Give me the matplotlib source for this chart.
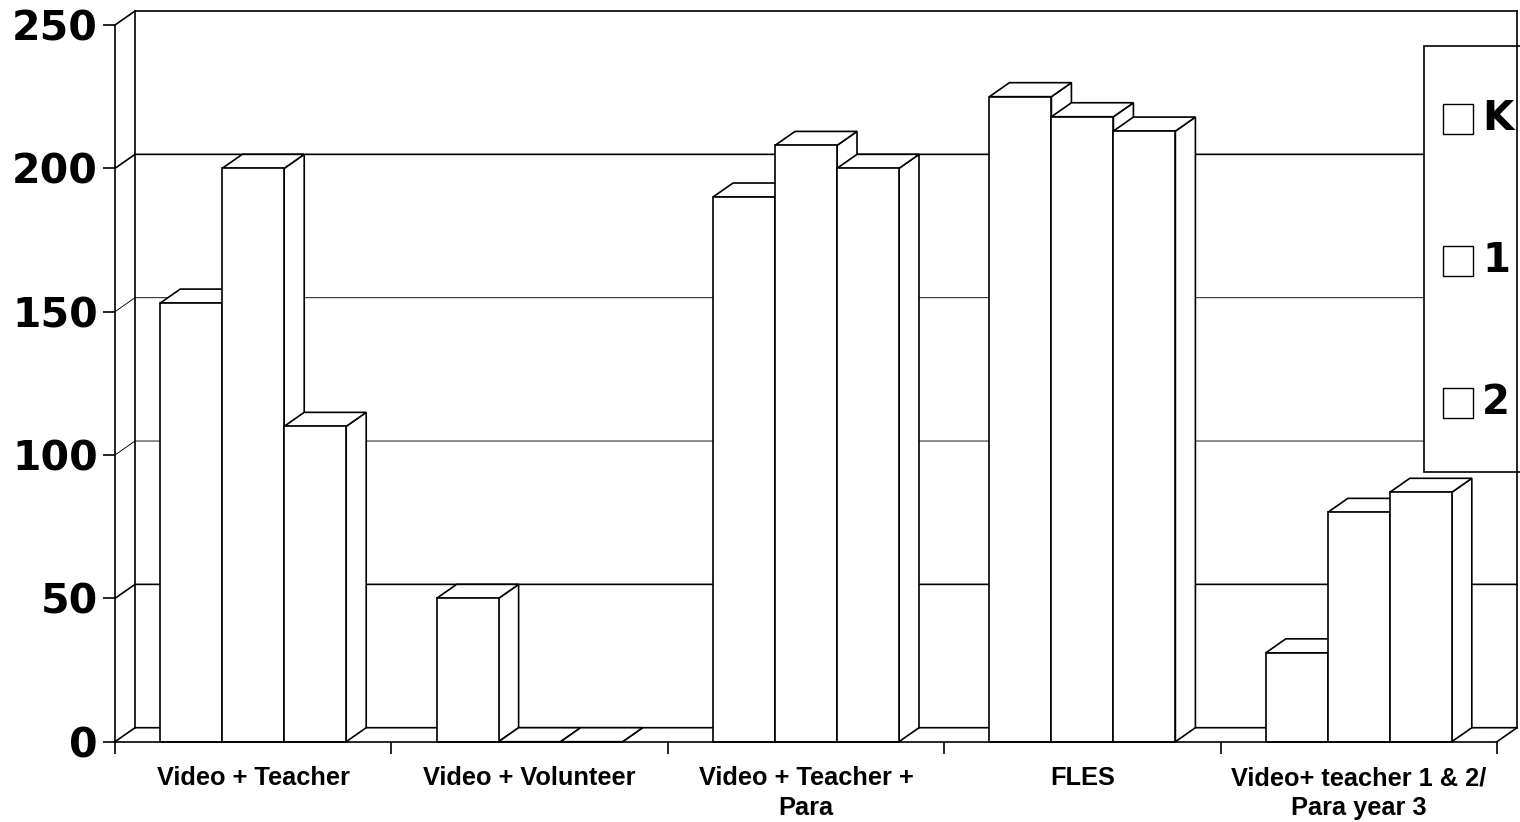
import matplotlib
matplotlib.use("Agg")
import matplotlib.pyplot as plt
from matplotlib.patches import Polygon, Rectangle

# ---- data -------------------------------------------------------------
categories = [
    "Video + Teacher",
    "Video + Volunteer",
    "Video + Teacher +\nPara",
    "FLES",
    "Video+ teacher 1 & 2/\nPara year 3",
]
series_labels = ["K", "1", "2"]
k_values = [153, 50, 190, 225, 31]
grade1_values = [200, 0, 208, 218, 80]
grade2_values = [110, 0, 200, 213, 87]
y_ticks = [0, 50, 100, 150, 200, 250]

series_values = [k_values, grade1_values, grade2_values]

# ---- style ------------------------------------------------------------
plt.rcParams["font.family"] = ["Liberation Sans", "DejaVu Sans"]
plt.rcParams["font.weight"] = "bold"
BIG_FONT = ["DejaVu Sans"]

W, H, DPI = 1520, 822, 100
Y_MAX = 250
DX, DY = 0.0724, 4.88          # depth offset of the 3-D box (data units)
BAR_W = 0.2243                 # width of one column (category units)
GAP = (1 - 3 * BAR_W) / 2      # free space at each side of a cluster
EDGE_LW = 1.2
THIN_LW = 0.65

fig = plt.figure(figsize=(W / DPI, H / DPI), dpi=DPI)
fig.patch.set_facecolor("white")
ax = fig.add_axes([115 / W, (H - 741.7) / H, 1382 / W, 716.7 / H])
ax.set_xlim(0, len(categories))
ax.set_ylim(0, Y_MAX)
ax.set_facecolor("none")

n_cat = len(categories)

# back wall, left side wall and gridlines
for v in y_ticks:
    lw = THIN_LW if v in (100, 150) else EDGE_LW
    ax.plot([0, DX, n_cat + DX], [v, v + DY, v + DY], color="black",
            lw=lw, clip_on=False, zorder=1, solid_joinstyle="miter")
ax.plot([DX, DX], [DY, Y_MAX + DY], color="black", lw=EDGE_LW,
        clip_on=False, zorder=1)
ax.plot([n_cat, n_cat + DX], [0, DY], color="black", lw=EDGE_LW,
        clip_on=False, zorder=1)

# 3-D columns, drawn left to right so each hides its neighbour's side
order = 0
for i in range(n_cat):
    for j, vals in enumerate(series_values):
        v = vals[i]
        x0 = i + GAP + j * BAR_W
        x1 = x0 + BAR_W
        z = 3 + order * 0.01
        order += 1
        side = Polygon([(x1, 0), (x1 + DX, DY), (x1 + DX, v + DY), (x1, v)],
                       closed=True, facecolor="white", edgecolor="black",
                       lw=EDGE_LW, clip_on=False, zorder=z, joinstyle="miter")
        top = Polygon([(x0, v), (x1, v), (x1 + DX, v + DY), (x0 + DX, v + DY)],
                      closed=True, facecolor="white", edgecolor="black",
                      lw=EDGE_LW, clip_on=False, zorder=z, joinstyle="miter")
        front = Rectangle((x0, 0), BAR_W, v, facecolor="white",
                          edgecolor="black", lw=EDGE_LW, clip_on=False,
                          zorder=z, joinstyle="miter")
        ax.add_patch(side)
        ax.add_patch(top)
        ax.add_patch(front)

# legend box (runs past the right edge of the figure)
leg_left, leg_top, leg_bottom = 0.9472, 0.9711, 0.3767
ax.add_patch(Rectangle((leg_left, leg_bottom), 0.2, leg_top - leg_bottom,
                       transform=ax.transAxes, facecolor="white",
                       edgecolor="black", lw=EDGE_LW, clip_on=False,
                       zorder=10))
entry_y = [0.8688, 0.6707, 0.4726]
sq_w, sq_h = 30 / 1382, 30 / 716.7
for lab, ey in zip(series_labels, entry_y):
    ax.add_patch(Rectangle((0.9609, ey - sq_h / 2), sq_w, sq_h,
                           transform=ax.transAxes, facecolor="white",
                           edgecolor="black", lw=1.0, clip_on=False,
                           zorder=11))
    ax.text(0.9892, ey, lab, transform=ax.transAxes, fontsize=29,
            family=BIG_FONT, fontweight="bold", va="center", ha="left",
            clip_on=False, zorder=11)

# right edge of the back wall sits in front of the legend
ax.plot([n_cat + DX, n_cat + DX], [DY, Y_MAX + DY], color="black",
        lw=EDGE_LW, clip_on=False, zorder=12)

# axes, ticks and labels
for s in ("top", "right"):
    ax.spines[s].set_visible(False)
for s in ("left", "bottom"):
    ax.spines[s].set_linewidth(EDGE_LW)
    ax.spines[s].set_zorder(9)

ax.set_yticks(y_ticks)
ax.set_yticklabels([str(t) for t in y_ticks], family=BIG_FONT,
                   fontweight="bold")
ax.tick_params(axis="y", direction="out", length=8.6, width=EDGE_LW,
               pad=3.6, labelsize=29.5)

ax.set_xticks(range(n_cat + 1))
ax.set_xticklabels([])
ax.set_xticks([i + 0.5 for i in range(n_cat)], minor=True)
ax.set_xticklabels(categories, minor=True, fontsize=18.3, fontweight="bold",
                   linespacing=1.3)
ax.tick_params(axis="x", which="major", direction="out", length=8.6,
               width=EDGE_LW)
ax.tick_params(axis="x", which="minor", length=0, pad=17.5)

fig.savefig("out.png", dpi=DPI)
